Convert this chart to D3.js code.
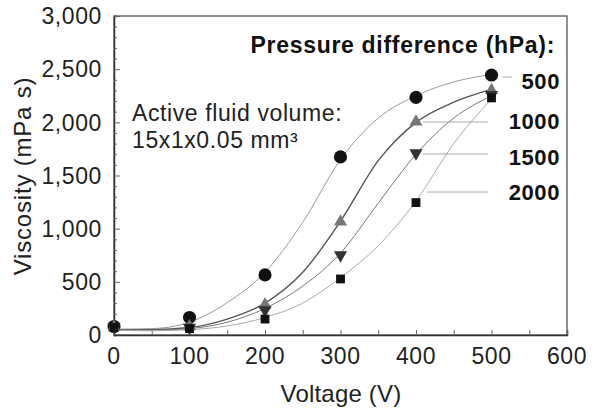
<!DOCTYPE html>
<html><head><meta charset="utf-8">
<script src="https://cdn.jsdelivr.net/npm/d3@7"></script>
<style>
html,body{margin:0;padding:0;background:#fff;}
svg{display:block;font-family:Arial,"Liberation Sans",sans-serif;}
</style></head>
<body><svg id="c" width="595" height="411"></svg>
<script>
// Data
const voltages = [0, 100, 200, 300, 400, 500];
const pressures = ["500", "1000", "1500", "2000"];
const visc500  = [80, 165, 565, 1675, 2235, 2445];
const visc1000 = [75, 80, 285, 1065, 2005, 2300];
const visc1500 = [80, 70, 235, 752, 1710, 2260];
const visc2000 = [70, 60, 150, 527, 1245, 2230];
// Fitted curves
const fitV = [0, 50, 100, 150, 200, 250, 300, 350, 400, 450, 500];
const fit500  = [55, 60, 120, 305, 590, 1060, 1650, 2040, 2250, 2380, 2450];
const fit1000 = [50, 50, 70, 150, 300, 590, 1070, 1640, 2000, 2190, 2310];
const fit1500 = [50, 45, 60, 120, 250, 460, 770, 1240, 1700, 2040, 2250];
const fit2000 = [45, 40, 50, 85, 165, 300, 540, 840, 1260, 1800, 2220];
const xTicks = [0, 100, 200, 300, 400, 500, 600];
const yTicks = [0, 500, 1000, 1500, 2000, 2500, 3000];

const svg = d3.select("#c");
const x = d3.scaleLinear().domain([0, 600]).range([114, 567]);
const y = d3.scaleLinear().domain([0, 3000]).range([335, 16]);

// frame
svg.append("rect").attr("x", 114).attr("y", 16).attr("width", 567 - 114).attr("height", 335 - 16)
  .attr("fill", "none").attr("stroke", "#555").attr("stroke-width", 1.3);

// axes with inward ticks
const yAxis = svg.append("g").attr("transform", "translate(114,0)")
  .call(d3.axisRight(y).tickValues(d3.range(0, 3001, 100)).tickSize(3).tickFormat(""));
yAxis.selectAll(".tick line").attr("stroke", "#666")
  .attr("x2", d => d % 500 === 0 ? 6 : 3);
yAxis.select(".domain").attr("stroke", "#333").attr("stroke-width", 1.5);

const xAxis = svg.append("g").attr("transform", "translate(0,335)")
  .call(d3.axisTop(x).tickValues(d3.range(0, 601, 50)).tickSize(5).tickFormat(""));
xAxis.selectAll(".tick line").attr("stroke", "#666");
xAxis.select(".domain").attr("stroke", "#333").attr("stroke-width", 1.5);

// tick labels
const fmt = d3.format(",");
svg.append("g").selectAll("text").data(yTicks).join("text")
  .attr("x", 102).attr("y", d => y(d)).attr("dy", "0.36em")
  .attr("text-anchor", "end").attr("font-size", 23).attr("letter-spacing", 0.6).attr("fill", "#222")
  .text(d => fmt(d));
svg.append("g").selectAll("text").data(xTicks).join("text")
  .attr("x", d => x(d)).attr("y", 364)
  .attr("text-anchor", "middle").attr("font-size", 23).attr("letter-spacing", 0.5).attr("fill", "#222")
  .text(d => d);

// axis titles
svg.append("text").attr("x", 341).attr("y", 402).attr("text-anchor", "middle")
  .attr("font-size", 24).attr("letter-spacing", 0.2).attr("fill", "#222").text("Voltage (V)");
svg.append("text").attr("transform", "translate(31,176) rotate(-90)").attr("text-anchor", "middle")
  .attr("font-size", 24).attr("letter-spacing", 0.8).attr("fill", "#222").text("Viscosity (mPa s)");

// fitted curves
const fits = [fit500, fit1000, fit1500, fit2000];
const curveColors = ["#999", "#555", "#777", "#aaa"];
const line = d3.line().x((d, i) => x(fitV[i])).y(d => y(d)).curve(d3.curveMonotoneX);
fits.forEach((f, k) => {
  svg.append("path").attr("d", line(f)).attr("fill", "none")
    .attr("stroke", curveColors[k]).attr("stroke-width", k === 1 ? 1.4 : 1);
});

// leader lines
const leaders = [
  {x1: 502, x2: 512, y: 77},
  {x1: 423, x2: 488, y: 122},
  {x1: 423, x2: 488, y: 154},
  {x1: 427, x2: 488, y: 192}
];
svg.append("g").selectAll("line").data(leaders).join("line")
  .attr("x1", d => d.x1).attr("x2", d => d.x2).attr("y1", d => d.y).attr("y2", d => d.y)
  .attr("stroke", "#aaa").attr("stroke-width", 1);

// markers
const series = [visc500, visc1000, visc1500, visc2000];
const symbols = [
  {type: d3.symbolCircle, size: 135, rot: 0, fill: "#111"},
  {type: d3.symbolTriangle, size: 75, rot: 0, fill: "#777"},
  {type: d3.symbolTriangle, size: 75, rot: 180, fill: "#333"},
  {type: d3.symbolSquare, size: 78, rot: 0, fill: "#111"}
];
series.forEach((s, k) => {
  const sym = symbols[k];
  svg.append("g").selectAll("path").data(s).join("path")
    .attr("d", d3.symbol().type(sym.type).size(sym.size))
    .attr("transform", (d, i) => `translate(${x(voltages[i])},${y(d)}) rotate(${sym.rot})`)
    .attr("fill", sym.fill);
});

// legend text
svg.append("text").attr("x", 555).attr("y", 53).attr("text-anchor", "end")
  .attr("font-size", 23).attr("letter-spacing", 0.7).attr("font-weight", "bold").attr("fill", "#111")
  .text("Pressure difference (hPa):");
const labelY = [81, 121, 157, 192];
svg.append("g").selectAll("text").data(pressures).join("text")
  .attr("x", 560).attr("y", (d, i) => labelY[i]).attr("dy", "0.36em")
  .attr("text-anchor", "end").attr("font-size", 22).attr("letter-spacing", 0.6).attr("font-weight", "bold").attr("fill", "#111")
  .text(d => d);

// annotation
svg.append("text").attr("x", 132).attr("y", 121).attr("font-size", 23).attr("letter-spacing", 0.6).attr("fill", "#222")
  .text("Active fluid volume:");
svg.append("text").attr("x", 132).attr("y", 148).attr("font-size", 23).attr("letter-spacing", 0.6).attr("fill", "#222")
  .text("15x1x0.05 mm³");
</script></body></html>
